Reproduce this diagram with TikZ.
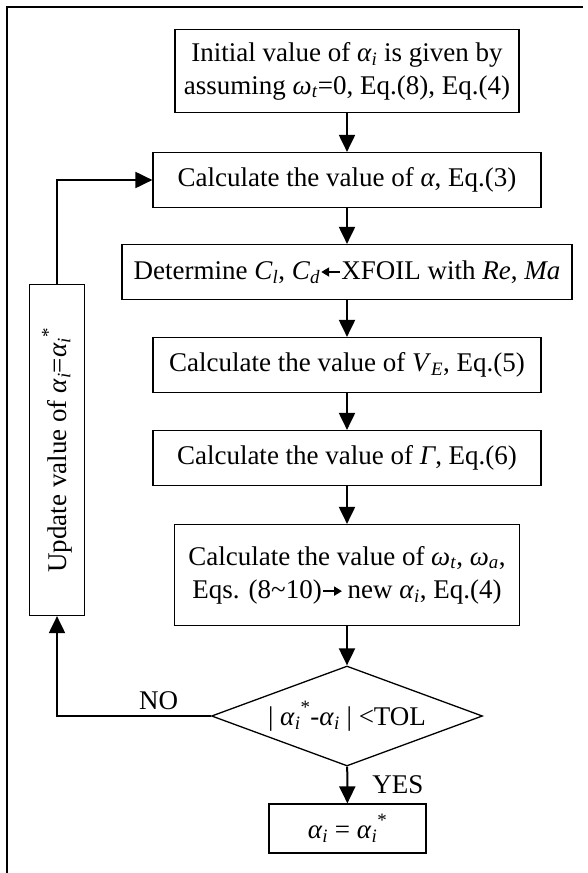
\documentclass[tikz,border=0pt]{standalone}
\usepackage{fontspec}
\setmainfont{Liberation Serif}
\usetikzlibrary{shapes.geometric,arrows.meta}
\newcommand{\isub}[1]{\textsubscript{\textit{#1}}}
\newcommand{\ai}{\textit{α}\isub{i}}
\newcommand{\astr}{\textsuperscript{\raisebox{3pt}{*}}}
% short heavy arrow inside the text
\newcommand{\harrow}[1]{\tikz[baseline=-7pt,x=1pt,y=1pt]\draw[line width=2.4pt,-{Triangle[length=8pt,width=9pt]}] #1;}
\begin{document}
\begin{tikzpicture}[x=1pt,y=-1pt,>={Triangle[length=17pt,width=16pt]},
  every node/.style={font=\fontsize{27}{33}\selectfont},
  stepbox/.style={draw,line width=1.2pt,inner sep=0pt,minimum height=55pt,align=center},
  testbox/.style={draw,diamond,aspect=2.71,line width=1.3pt,inner sep=0pt,minimum width=271pt,minimum height=100pt},
  flow/.style={->,line width=2pt}]
\useasboundingbox (0,0) rectangle (587,873);
\draw[line width=2pt] (583,7) -- (7,7) -- (7,873);
\node[stepbox,minimum width=344pt,minimum height=83pt] (init) at (347,71) {Initial value of \ai{} is given by\\assuming \textit{ω}\isub{t}=0, Eq.(8), Eq.(4)};
\node[stepbox,minimum width=388pt] (calpha) at (347,180) {Calculate the value of \textit{α}, Eq.(3)};
\node[stepbox,minimum width=450pt] (xfoil) at (347,272) {Determine \textit{C}\isub{l}, \textit{C}\isub{d}\harrow{(19,0) -- (0,0)}XFOIL with \textit{Re}, \textit{Ma}};
\node[stepbox,minimum width=388pt] (ve) at (347,365) {Calculate the value of \textit{V}\isub{E}, Eq.(5)};
\node[stepbox,minimum width=388pt] (gam) at (347,458) {Calculate the value of \textit{Γ}, Eq.(6)};
\node[stepbox,minimum width=345pt,minimum height=101pt] (omega) at (347,575) {Calculate the value of \textit{ω}\isub{t}, \textit{ω}\isub{a},\\Eqs. (8\textasciitilde10)\harrow{(0,0) -- (19,0)}\,new \ai, Eq.(4)};
\node[testbox] (tol) at (347,716) {| \ai\astr-\ai{} | <TOL};
\node[stepbox,minimum width=157pt,minimum height=49pt] (final) at (347.5,828.5) {\ai{} = \ai\astr};
\node[stepbox,rotate=90,minimum width=331pt] (upd) at (57,450) {Update value of \ai=\ai\astr};
\draw[flow] (init) -- (calpha); \draw[flow] (calpha) -- (xfoil); \draw[flow] (xfoil) -- (ve);
\draw[flow] (ve) -- (gam); \draw[flow] (gam) -- (omega); \draw[flow] (omega) -- (tol);
\draw[flow] (tol) -- (final) node[midway,right=24pt,inner sep=0pt] {YES};
% loop back
\draw[flow] (tol.west) -| (upd.west) node[pos=0.17,above=5pt,inner sep=0pt] {NO};
\draw[flow] (upd.east) |- (calpha.west);
\end{tikzpicture}
\end{document}
